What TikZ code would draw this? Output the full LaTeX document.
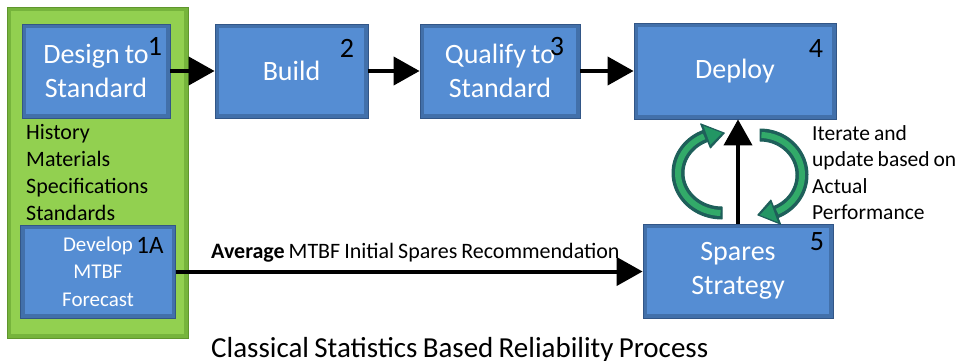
\documentclass[tikz,border=0pt]{standalone}
\usepackage{fontspec}
\setmainfont{Carlito}[WordSpace=0.8]
\usetikzlibrary{arrows.meta}

\definecolor{boxface}{RGB}{85,141,211}
\definecolor{boxedge}{RGB}{66,112,170}
\definecolor{boxrim}{RGB}{50,86,135}
\definecolor{leafface}{RGB}{146,208,80}
\definecolor{leafedge}{RGB}{118,180,60}
\definecolor{leafrim}{RGB}{95,150,45}
\definecolor{loopdark}{RGB}{30,95,90}
\definecolor{loopmid}{RGB}{35,150,100}
\definecolor{looplight}{RGB}{50,170,105}

\newcommand{\fs}[2]{\fontsize{#1}{#2}\selectfont}

\begin{document}
\begin{tikzpicture}[x=1pt,y=-1pt,
  bevelled/.style n args={3}{draw=#3, line width=0.8pt, fill=#2,
    inner sep=0pt,
    path picture={
      \fill[#1] ([shift={(4pt,-4pt)}]path picture bounding box.north west)
        rectangle ([shift={(-4pt,4pt)}]path picture bounding box.south east);
    }},
  stage/.style={bevelled={boxface}{boxedge}{boxrim}, text=white,
    align=center, font=\fs{28}{34}},
  panel/.style={bevelled={leafface}{leafedge}{leafrim}},
  tag/.style={text=black, inner sep=0pt, font=\fs{28}{30}},
  note/.style={text=black, inner sep=0pt, align=left},
  conn/.style={line width=4pt, draw=black,
    -{Triangle[length=26pt,width=28pt]}},
  loopbody/.style={fill=loopdark, draw=loopdark, line width=1pt, line join=round},
]
\useasboundingbox (0,0) rectangle (963,361);

% green panel holding steps 1 and 1A
\node[panel, minimum width=181pt, minimum height=331pt] (panel) at (97.5,172.5) {};

% process steps
\node[stage, minimum width=148pt, minimum height=94pt] (design) at (96,71)
  {Design to\\Standard};
\node[stage, minimum width=153pt, minimum height=94pt] (build) at (291.5,71)
  {Build};
\node[stage, minimum width=160pt, minimum height=94pt] (qualify) at (500,71)
  {Qualify to\\Standard};
\node[stage, minimum width=202pt, minimum height=96pt] (deploy) at (735,71)
  {Deploy};
\node[stage, minimum width=190pt, minimum height=94pt] (spares) at (738,271)
  {Spares\\Strategy};
\node[stage, minimum width=155pt, minimum height=93pt, font=\fs{21}{27.5}]
  (develop) at (98,271.5) {Develop\\MTBF\\Forecast};

% step numbers
\node[tag] (n1) at (155,46) {1};
\node[tag] (n2) at (347,48) {2};
\node[tag] (n3) at (557,47) {3};
\node[tag] (n4) at (816,49) {4};
\node[tag] (n5) at (817,242) {5};
\node[tag, font=\fs{25}{28}] (n1a) at (150,245) {1A};

% inputs listed inside the panel
\node[note, anchor=west, font=\fs{22}{26.7}] (inputs) at (26,172.5)
  {History\\Materials\\Specifications\\Standards};

% main flow
\draw[conn] (design) -- (build);
\draw[conn] (build) -- (qualify);
\draw[conn] (qualify) -- (deploy);
\draw[conn] (develop.east) -- (develop.east -| spares.west);
\draw[conn] (spares.north) -- (spares.north |- deploy.south);

\node[note, anchor=base west, font=\fs{22}{24}] (avg) at (211,258)
  {\textbf{Average} MTBF Initial Spares Recommendation};

% feedback loop arrows
\fill[loopbody]
  plot[domain=90:248,samples=40] ({722+50*cos(\x)},{173+46*sin(\x)})
  -- ({722+57*cos(248)},{173+53*sin(248)})
  -- ({722+44*cos(273)},{173+40*sin(273)})
  -- ({722+31*cos(248)},{173+27*sin(248)})
  -- plot[domain=248:90,samples=40] ({722+38*cos(\x)},{173+34*sin(\x)})
  -- cycle;
\draw[looplight, line width=6pt]
  plot[domain=92:246,samples=40] ({722+44*cos(\x)},{173+40*sin(\x)});
\fill[loopmid]
  ({722+54*cos(250)},{173+50*sin(250)})
  -- ({722+44*cos(270)},{173+40*sin(270)})
  -- ({722+34*cos(250)},{173+30*sin(250)}) -- cycle;

\fill[loopbody]
  plot[domain=-90:68,samples=40] ({760+48*cos(\x)},{175+46*sin(\x)})
  -- ({760+55*cos(68)},{175+53*sin(68)})
  -- ({760+42*cos(93)},{175+40*sin(93)})
  -- ({760+29*cos(68)},{175+27*sin(68)})
  -- plot[domain=68:-90,samples=40] ({760+36*cos(\x)},{175+34*sin(\x)})
  -- cycle;
\draw[looplight, line width=6pt]
  plot[domain=-88:66,samples=40] ({760+42*cos(\x)},{175+40*sin(\x)});
\fill[loopmid]
  ({760+52*cos(70)},{175+50*sin(70)})
  -- ({760+42*cos(90)},{175+40*sin(90)})
  -- ({760+32*cos(70)},{175+30*sin(70)}) -- cycle;

\node[note, anchor=west, font=\fs{21.5}{26.5}] (iter) at (812,172.5)
  {Iterate and\\update based on\\Actual\\Performance};

% caption
\node[note, anchor=base west, font=\fs{29}{30}] (caption) at (211,357)
  {Classical Statistics Based Reliability Process};
\end{tikzpicture}
\end{document}
